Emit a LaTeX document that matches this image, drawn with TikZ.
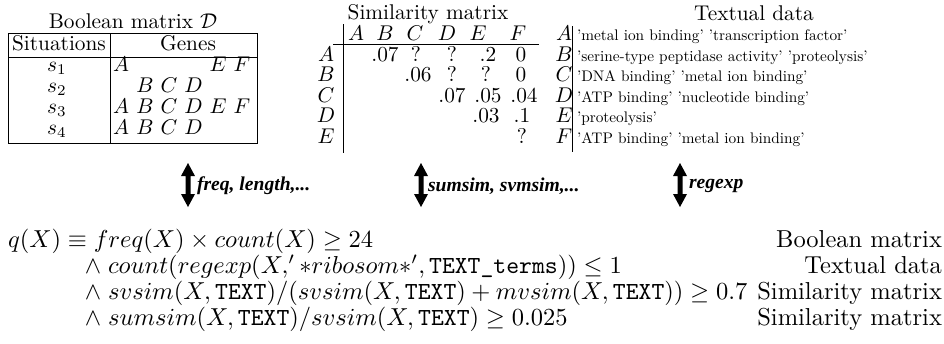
\documentclass[tikz,border=0pt]{standalone}
\usepackage{fontspec}
\newfontfamily\tbifont{Liberation Serif}
\begin{document}
\begin{tikzpicture}[x=0.408pt,y=-0.408pt,
  topt/.style={scale=0.87,inner sep=0pt,outer sep=0pt,anchor=base},
  tinyt/.style={scale=0.625,inner sep=0pt,outer sep=0pt,anchor=base west},
  labt/.style={scale=0.8,inner sep=0pt,outer sep=0pt,anchor=west,font=\tbifont\bfseries\itshape},
  frm/.style={inner sep=0pt,outer sep=0pt,anchor=base west},
  frmr/.style={inner sep=0pt,outer sep=0pt,anchor=base east},
  rulel/.style={line width=0.4pt},
  bigarrowfill/.style={fill=black}]
\useasboundingbox (0,0) rectangle (944,344);

% ---------- Boolean matrix ----------
\node[topt] (btitle) at (133,28) {Boolean matrix $\mathcal{D}$};
\draw[rulel] (8,33) rectangle (257,143);
\draw[rulel] (8,57) -- (257,57);
\draw[rulel] (110,33) -- (110,143);
\node[topt] (bsit) at (59,50) {Situations};
\node[topt] (bgen) at (188,50) {Genes};
\foreach \i/\y in {1/71,2/92,3/113,4/134}
  \node[topt] (bs\i) at (57,\y) {$s_{\i}$};
\foreach \l/\x in {A/121,E/218,F/242}
  \node[topt] (ga\l) at (\x,71) {$\l$};
\foreach \l/\x in {B/145,C/169,D/193.5}
  \node[topt] (gb\l) at (\x,92) {$\l$};
\foreach \l/\x in {A/121,B/145,C/169,D/193.5,E/218,F/242}
  \node[topt] (gc\l) at (\x,113) {$\l$};
\foreach \l/\x in {A/121,B/145,C/169,D/193.5}
  \node[topt] (gd\l) at (\x,134) {$\l$};

% ---------- Similarity matrix ----------
\node[topt] (stitle) at (428,19) {Similarity matrix};
\draw[rulel] (343,24) -- (343,153);
\draw[rulel] (333,44) -- (539,44);
\foreach \l/\x in {A/356,B/385,C/415,D/447,E/478,F/518}
  \node[topt] (sh\l) at (\x,40) {$\l$};
\foreach \l/\y in {A/61,B/81.5,C/102,D/122.5,E/143}
  \node[topt] (sr\l) at (326,\y) {$\l$};
% row A
\node[topt] (vAB) at (385,61) {.07};
\node[topt] (vAC) at (416,61) {?};
\node[topt] (vAD) at (452,61) {?};
\node[topt] (vAE) at (488,61) {.2};
\node[topt] (vAF) at (521,61) {0};
% row B
\node[topt] (vBC) at (418,81.5) {.06};
\node[topt] (vBD) at (452,81.5) {?};
\node[topt] (vBE) at (486,81.5) {?};
\node[topt] (vBF) at (521,81.5) {0};
% row C
\node[topt] (vCD) at (452,102) {.07};
\node[topt] (vCE) at (488,102) {.05};
\node[topt] (vCF) at (524,102) {.04};
% row D
\node[topt] (vDE) at (486,122.5) {.03};
\node[topt] (vDF) at (522,122.5) {.1};
% row E
\node[topt] (vEF) at (522,143) {?};

% ---------- Textual data ----------
\node[topt] (ttitle) at (754,20) {Textual data};
\draw[rulel] (572,26) -- (572,152);
\foreach \l/\y in {A/40,B/61,C/81.5,D/102,E/122.5,F/143}
  \node[topt] (tl\l) at (564,\y) {$\l$};
\node[tinyt] (txA) at (577,40) {'metal ion binding' 'transcription factor'};
\node[tinyt] (txB) at (577,61) {'serine-type peptidase activity' 'proteolysis'};
\node[tinyt] (txC) at (577,81.5) {'DNA binding' 'metal ion binding'};
\node[tinyt] (txD) at (577,102) {'ATP binding' 'nucleotide binding'};
\node[tinyt] (txE) at (577,122.5) {'proteolysis'};
\node[tinyt] (txF) at (577,143) {'ATP binding' 'metal ion binding'};

% ---------- arrows ----------
\foreach \n/\x in {1/188,2/421,3/680}{
  \coordinate (ar\n) at (\x,185);
  \fill[bigarrowfill] (ar\n) ++(0,-22) -- ++(7,13) -- ++(-4.5,0) -- ++(0,18)
     -- ++(4.5,0) -- ++(-7,13) -- ++(-7,-13) -- ++(4.5,0) -- ++(0,-18)
     -- ++(-4.5,0) -- cycle;
}
\node[labt] (lab1) at (197,186) {freq, length,...};
\node[labt] (lab2) at (428,186) {sumsim, svmsim,...};
\node[labt] (lab3) at (689,186) {regexp};

% ---------- formula ----------
\node[frm] (f1) at (8,247) {$q(X) \equiv freq(X) \times count(X) \geq 24$};
\node[frm] (f2) at (85,273) {$\wedge\; count(regexp(X,'*ribosom*', \texttt{TEXT\_terms})) \leq 1$};
\node[frm] (f3) at (85,299) {$\wedge\; svsim(X,\texttt{TEXT})/(svsim(X,\texttt{TEXT})+mvsim(X,\texttt{TEXT}))\geq 0.7$};
\node[frm] (f4) at (85,325) {$\wedge\; sumsim(X,\texttt{TEXT})/svsim(X,\texttt{TEXT})\geq 0.025$};
\node[frmr] (r1) at (942,247) {Boolean matrix};
\node[frmr] (r2) at (942,273) {Textual data};
\node[frmr] (r3) at (942,299) {Similarity matrix};
\node[frmr] (r4) at (942,325) {Similarity matrix};
\end{tikzpicture}
\end{document}
